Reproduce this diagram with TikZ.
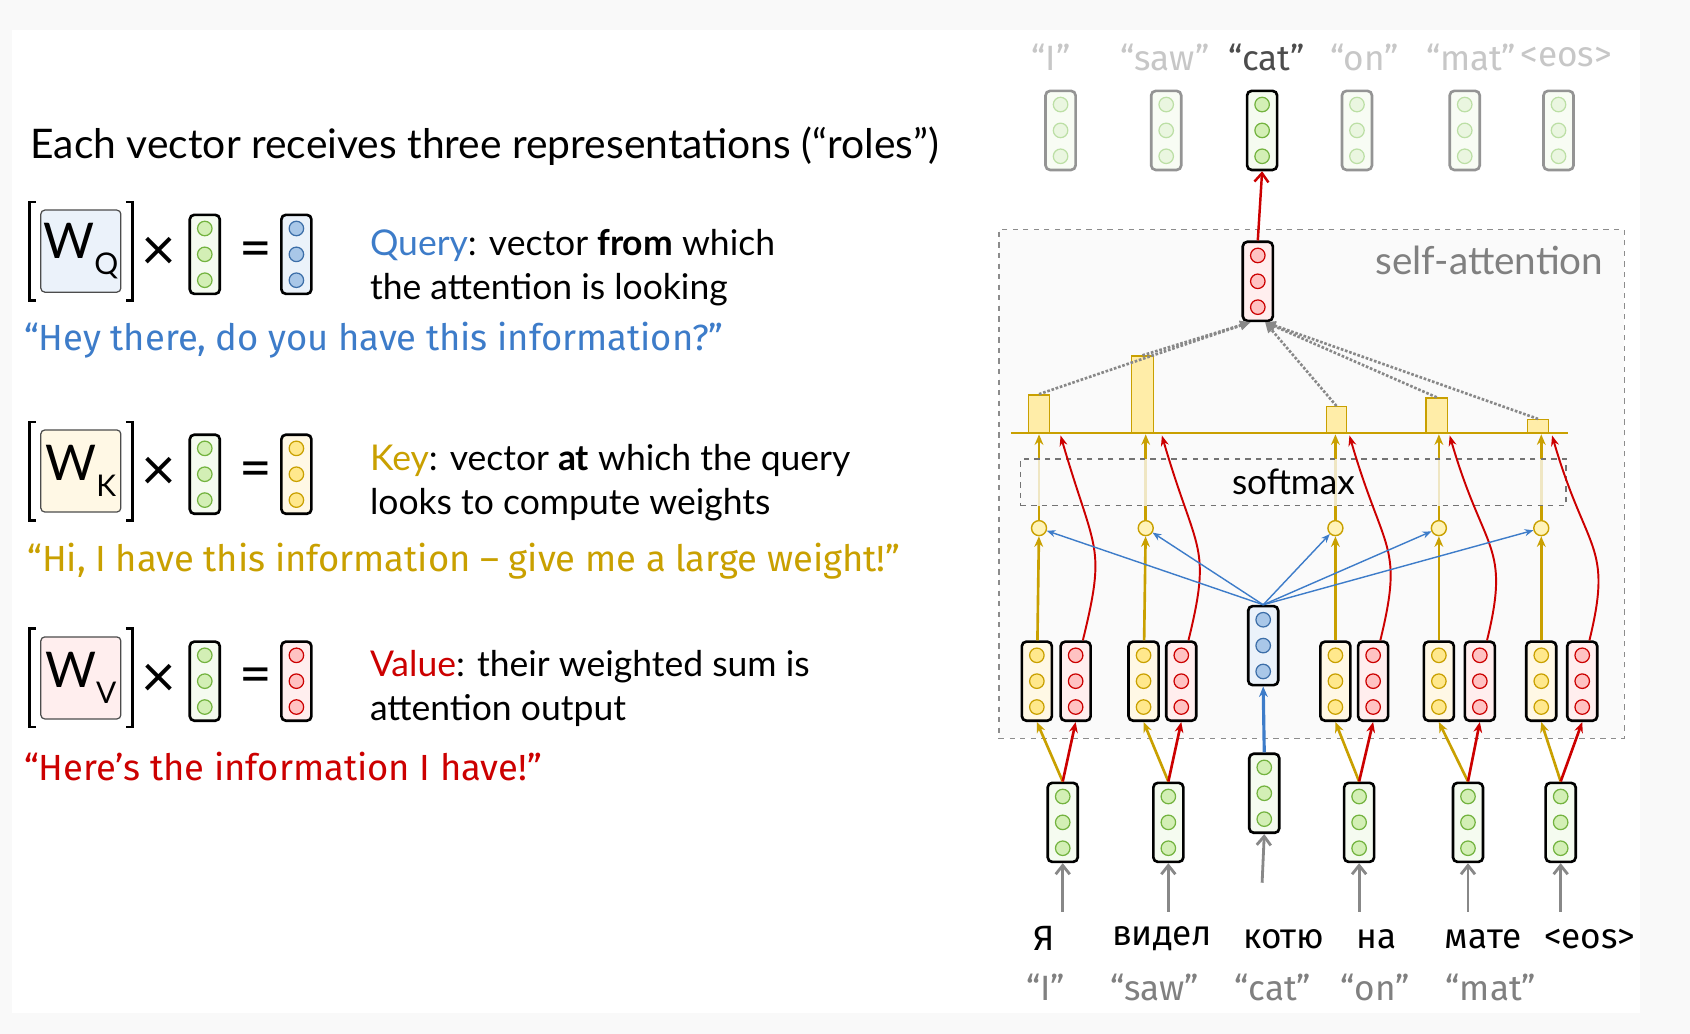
\documentclass[tikz,border=0pt]{standalone}
\usepackage{fontspec}
\setmainfont{Lato}
\newfontfamily\comicfont{Fira Sans}
\usetikzlibrary{arrows.meta,positioning,calc}

\definecolor{qblue}{HTML}{3D7CC9}
\definecolor{kgold}{HTML}{C9A000}
\definecolor{vred}{HTML}{CC0000}
\definecolor{gline}{HTML}{73B33F}
\definecolor{gdot}{HTML}{D3EFB5}
\definecolor{gbox}{HTML}{F5FBF0}
\definecolor{kdot}{HTML}{FFE88C}
\definecolor{kbox}{HTML}{FFF8E5}
\definecolor{vdot}{HTML}{FFC2C2}
\definecolor{vbox}{HTML}{FFEEEE}
\definecolor{qdot}{HTML}{A9C7E8}
\definecolor{qline}{HTML}{3C6EA8}
\definecolor{qbox}{HTML}{EBF2FA}
\definecolor{fadeline}{HTML}{BCDFA5}
\definecolor{fadedot}{HTML}{EAF6E0}
\definecolor{fadebox}{HTML}{F8FCF4}
\definecolor{barfill}{HTML}{FFEDA8}
\definecolor{circfill}{HTML}{FFF3B8}
\definecolor{attnbg}{HTML}{FAFAFA}
\definecolor{pagebg}{HTML}{F9F9F9}
\definecolor{arrowgray}{HTML}{888888}

% vector with three dots: name, position, box line, box fill, dot fill, dot line
\newcommand{\vecnode}[6]{%
  \node[vecbox, draw=#3, fill=#4] (#1) at (#2) {};
  \foreach \k in {-1,0,1}
    \draw[draw=#6, fill=#5, line width=0.7pt] ($(#1.center)+(0,\k*24)$) circle (0.145cm);
}

% W x vector = vector: tag, y, W fill, subscript, result dot fill, result dot line, result box fill
\newcommand{\rolerow}[7]{%
  \node[wbox, fill=#3] (w#1) at (75,#2-3) {W\raisebox{-0.32em}{\fontsize{17}{17}\selectfont #4}};
  \draw[bracket] ($(w#1.north west)+(-4,-7)$) -- ++(-6,0) |- ($(w#1.south west)+(-4,7)$);
  \draw[bracket] ($(w#1.north east)+(4,-7)$) -- ++(6,0) |- ($(w#1.south east)+(4,7)$);
  \node[font=\fontsize{34}{34}\selectfont] (x#1) at (147,#2) {×};
  \vecnode{in#1}{190,#2}{black}{gbox}{gdot}{gline}
  \node[font=\fontsize{32}{32}\selectfont] (eq#1) at (237,#2) {=};
  \vecnode{r#1}{275,#2}{black}{#7}{#5}{#6}
}

\begin{document}
\begin{tikzpicture}[x=0.02155cm, y=-0.02155cm,
  vecbox/.style={rectangle, rounded corners=0.09cm, line width=1.5pt, minimum width=0.6cm, minimum height=1.58cm, inner sep=0pt},
  wbox/.style={rectangle, rounded corners=0.08cm, draw=black!70, line width=0.7pt, minimum width=1.6cm, minimum height=1.64cm, inner sep=0pt, font=\fontsize{28}{28}\selectfont},
  bracket/.style={line width=1.5pt},
  body/.style={anchor=west, align=left, inner sep=0pt, font=\fontsize{20.2}{25}\selectfont},
  comic/.style={anchor=west, inner sep=0pt, font=\comicfont\fontsize{20.7}{20.7}\selectfont},
  word/.style={font=\comicfont\fontsize{20}{20}\selectfont},
  bar/.style={rectangle, draw=kgold, fill=barfill, line width=0.8pt, inner sep=0pt, anchor=south},
  score/.style={circle, draw=kgold, fill=circfill, line width=0.8pt, minimum size=0.3cm, inner sep=0pt},
  goldarrow/.style={kgold, line width=1.5pt, -{Stealth[length=6pt,width=5pt]}},
  redarrow/.style={vred, line width=1.5pt, -{Stealth[length=6pt,width=5pt]}},
  redcurve/.style={vred, line width=1.1pt, -{Stealth[length=6pt,width=4.5pt]}},
  bluearrow/.style={qblue, line width=0.8pt, -{Stealth[length=5pt,width=4pt]}},
  dotarrow/.style={arrowgray, line width=1.5pt, densely dotted, -{Triangle[length=6pt,width=5pt]}},
  grayarrow/.style={arrowgray, line width=1.6pt, -{Straight Barb[length=5pt,width=8pt]}}]

% page
\fill[pagebg] (0,0) rectangle (1568,959);
\fill[white] (11,28) rectangle (1522,940);

% left: the three roles
\node[anchor=west, inner sep=0pt, font=\fontsize{23.2}{23.2}\selectfont] (title) at (28,136) {Each vector receives three representations (“roles”)};

\rolerow{Q}{236}{qbox}{Q}{qdot}{qline}{qbox}
\node[body] (qtext) at (343,248.5) {\textcolor{qblue}{Query}: vector \textbf{from} which\\the attention is looking};
\node[comic, text=qblue] (qsay) at (22,316) {“Hey there, do you have this information?”};

\rolerow{K}{440}{kbox}{K}{kdot}{kgold}{kbox}
\node[body] (ktext) at (343,447.5) {\textcolor{kgold}{Key}: vector \textbf{at} which the query\\looks to compute weights};
\node[comic, text=kgold] (ksay) at (25,521) {“Hi, I have this information – give me a large weight!”};

\rolerow{V}{632}{vbox}{V}{vdot}{vred}{vbox}
\node[body] (vtext) at (343,638.5) {\textcolor{vred}{Value}: their weighted sum is\\attention output};
\node[comic, text=vred] (vsay) at (22,711) {“Here’s the information I have!”};

% right: self-attention block
\node[draw=black!45, dashed, line width=0.7pt, fill=attnbg, minimum width=12.5cm, minimum height=10.17cm, inner sep=0pt] (attn) at (1217,449) {};
\node[anchor=east, inner sep=0pt, text=black!50, font=\fontsize{22}{22}\selectfont] (attnlabel) at (1488,242) {self-attention};

% outputs on top
\foreach \i/\x/\txt in {1/975/“I”, 2/1081/“saw”, 4/1266/“on”, 5/1365/“mat”, 6/1453/<eos>}
  \node[word, text=black!22] (lab\i) at (\x,53) {\txt};
\node[word, text=black!70] (lab3) at (1175,53) {“cat”};
\foreach \i/\x in {1/984, 2/1082, 4/1259, 5/1359, 6/1446} {
  \vecnode{top\i}{\x,121}{black!42}{fadebox}{fadedot}{fadeline}
}
\vecnode{top3}{1171,121}{black}{gbox}{gdot}{gline}

% attention weights
\foreach \i/\x/\h/\w in {1/964/0.754/0.41, 2/1060/1.53/0.43, 4/1240/0.517/0.41, 5/1333/0.69/0.43, 6/1427/0.259/0.41}
  \node[bar, minimum width=\w cm, minimum height=\h cm] (b\i) at (\x,402) {};
\draw[kgold, line width=1.2pt] (938,402) -- (1455,402);

% weighted sum
\vecnode{out}{1167,261}{black}{vbox}{vdot}{vred}
\draw[dotarrow] (b1.north) -- (out.-100);
\draw[dotarrow] (b2.north) -- (out.-100);
\draw[dotarrow] (b4.north) -- (out.-80);
\draw[dotarrow] (b5.north) -- (out.-80);
\draw[dotarrow] (b6.north) -- (out.-80);
\draw[vred, line width=1.4pt, -{Straight Barb[length=5pt,width=8pt]}] (out.north) -- (top3.south);

% keys, values, query, inputs
\foreach \i/\kx/\vx/\cx/\ex in {1/962/998/964/984, 2/1061/1096/1063/1078, 4/1239/1274/1239/1252, 5/1335/1373/1335/1345, 6/1430/1468/1430/1440} {
  \vecnode{k\i}{\kx,632}{black}{kbox}{kdot}{kgold}
  \vecnode{v\i}{\vx,632}{black}{vbox}{vdot}{vred}
  \node[score] (c\i) at (\cx,490) {};
  \coordinate (t\i) at (\cx,403);
  \coordinate (e\i) at (\ex,404);
}
\vecnode{q}{1172,599}{black}{qbox}{qdot}{qline}
\foreach \i/\x in {1/986, 2/1084, 4/1261, 5/1362, 6/1448} {
  \vecnode{in\i}{\x,763}{black}{gbox}{gdot}{gline}
}
\vecnode{in3}{1173,736}{black}{gbox}{gdot}{gline}

% scores through softmax
\foreach \i in {1,2,4,5,6} {
  \draw[goldarrow] (k\i) -- (c\i);
  \draw[goldarrow] (c\i) -- (t\i);
}
\node[draw=black!55, dashed, line width=0.7pt, fill=attnbg, fill opacity=0.78, text opacity=1, minimum width=10.9cm, minimum height=0.93cm, inner sep=0pt, font=\fontsize{20}{20}\selectfont] (soft) at (1200,447.5) {softmax};

% values to the weights
\foreach \i in {1,2,4,5,6}
  \draw[redcurve] (v\i.80) .. controls +(22,-90) and +(32,110) .. (e\i);

% query against keys
\foreach \i in {1,2,4,5,6}
  \draw[bluearrow] (q.north) -- (c\i);

% inputs to keys, values, query
\foreach \i in {1,2,4,5,6} {
  \draw[goldarrow] (in\i.north) -- (k\i.south);
  \draw[redarrow] (in\i.north) -- (v\i.south);
}
\draw[qblue, line width=1.8pt, -{Stealth[length=6pt,width=5pt]}] (in3.north) -- (q.south);

% source words
\foreach \i/\x/\y in {1/986/846, 2/1084/846, 3/1171/819, 4/1261/846, 5/1362/846, 6/1448/846} {
  \coordinate (s\i) at (\x,\y);
  \draw[grayarrow] (s\i) -- (in\i.south);
}
\foreach \i/\x/\txt in {1/969/Я, 2/1078/видел, 3/1191/котю, 4/1277/на, 5/1376/мате, 6/1475/<eos>}
  \node[word] (w\i) at (\x,871) {\txt};
\foreach \i/\x/\txt in {1/970/“I”, 2/1071/“saw”, 3/1181/“cat”, 4/1276/“on”, 5/1383/“mat”}
  \node[word, text=black!50] (tr\i) at (\x,916) {\txt};

\end{tikzpicture}
\end{document}
